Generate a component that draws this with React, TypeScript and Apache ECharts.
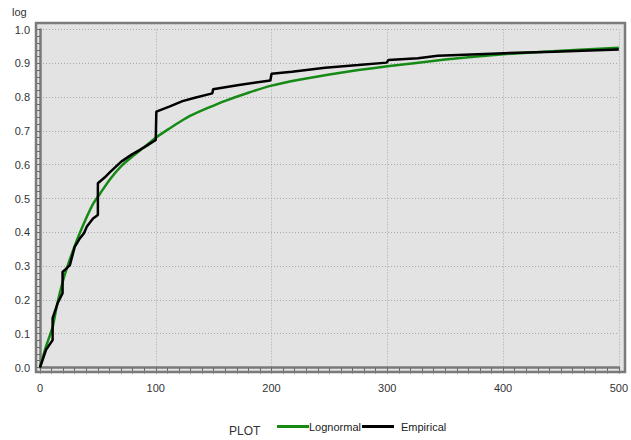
import React, { useEffect, useRef } from "react";
import * as echarts from "echarts";

const xTicks = [0, 100, 200, 300, 400, 500];
const yAxisName = "log";
const legendTitle = "PLOT";
const seriesNames = ["Lognormal", "Empirical"];

// Lognormal fitted curve
const lognormalX = [0, 5, 11, 15, 21, 30, 39, 46, 52, 60, 70, 80, 90, 100, 110, 120, 130, 145, 160, 180, 200, 225, 250, 275, 300, 350, 400, 450, 500];
const lognormalY = [0, 0.06, 0.12, 0.19, 0.27, 0.36, 0.435, 0.485, 0.515, 0.555, 0.595, 0.625, 0.652, 0.68, 0.703, 0.725, 0.745, 0.768, 0.789, 0.813, 0.834, 0.852, 0.867, 0.88, 0.891, 0.911, 0.927, 0.937, 0.946];

// Empirical step curve
const empiricalX = [0, 5.2, 10.9, 10.9, 15.2, 19.5, 19.5, 22.9, 25.8, 30, 34.4, 38, 40.5, 45.8, 50, 50, 55.8, 60.5, 63, 70.2, 78.8, 85.9, 93, 100, 100.5, 111.7, 123.1, 134.6, 148.9, 149.5, 171.8, 199, 200, 217.6, 246.3, 275, 299.5, 301, 326.5, 343.6, 401, 444, 500];
const empiricalY = [0, 0.052, 0.081, 0.146, 0.19, 0.22, 0.283, 0.293, 0.303, 0.357, 0.382, 0.397, 0.417, 0.441, 0.451, 0.545, 0.562, 0.578, 0.586, 0.609, 0.629, 0.643, 0.658, 0.673, 0.757, 0.772, 0.788, 0.799, 0.811, 0.823, 0.836, 0.849, 0.869, 0.875, 0.887, 0.895, 0.902, 0.91, 0.915, 0.922, 0.93, 0.934, 0.941];

const FONT = "'Liberation Sans', Arial, sans-serif";
const FRAME = "#7a7a7a";

export default function App() {
  const ref = useRef<HTMLDivElement>(null);
  useEffect(() => {
    document.body.style.margin = "0";
    const chart = echarts.init(ref.current!, undefined, { renderer: "svg" });
    const lognormalData = lognormalX.map((x, i) => [x, lognormalY[i]]);
    const empiricalData = empiricalX.map((x, i) => [x, empiricalY[i]]);
    chart.setOption({
      animation: false,
      backgroundColor: "#ffffff",
      textStyle: { fontFamily: FONT },
      grid: { left: 40, right: 9, top: 29.5, bottom: 72.5 },
      graphic: [
        {
          type: "rect",
          z: -10,
          silent: true,
          shape: { x: 36, y: 23, width: 589, height: 349 },
          style: { fill: "#e3e3e3", stroke: "none" },
        },
        {
          type: "rect",
          z: 100,
          silent: true,
          shape: { x: 36, y: 23, width: 589, height: 349 },
          style: { fill: "none", stroke: FRAME, lineWidth: 2.5 },
        },
        {
          type: "text",
          x: 12,
          y: 6,
          style: { text: yAxisName, font: `11px ${FONT}`, fill: "#333" },
        },
        {
          type: "text",
          x: 229,
          y: 425,
          style: { text: legendTitle, font: `12px ${FONT}`, fill: "#333" },
        },
      ],
      legend: {
        left: 277,
        top: 421,
        padding: 0,
        itemWidth: 32,
        itemHeight: 3,
        itemGap: 1,
        icon: "rect",
        textStyle: { fontSize: 11, color: "#222", fontFamily: FONT },
        data: [
          { name: seriesNames[0], textStyle: { padding: [0, 0, 2, -5] } },
          { name: seriesNames[1], textStyle: { padding: [0, 0, 0, 2] } },
        ],
      },
      xAxis: {
        type: "value",
        min: xTicks[0],
        max: xTicks[xTicks.length - 1],
        interval: 100,
        offset: 4.5,
        axisLine: { show: true, lineStyle: { color: FRAME, width: 2.5 } },
        axisTick: { show: true, inside: false, length: 6, lineStyle: { color: "#666" } },
        minorTick: { show: true, splitNumber: 10, length: 6, lineStyle: { color: "#666" } },
        axisLabel: { margin: 10, fontSize: 11, color: "#333", fontFamily: FONT },
        splitLine: { show: true, lineStyle: { color: "#a8a8a8", type: [1, 2], width: 1 } },
      },
      yAxis: {
        type: "value",
        min: 0,
        max: 1,
        interval: 0.1,
        offset: 4,
        axisLine: { show: true, lineStyle: { color: FRAME, width: 2.5 } },
        axisTick: { show: true, inside: false, length: 5, lineStyle: { color: "#666" } },
        minorTick: { show: true, splitNumber: 5, length: 3, lineStyle: { color: "#666" } },
        axisLabel: {
          margin: 6,
          fontSize: 11,
          color: "#333",
          fontFamily: FONT,
          formatter: (v: number) => v.toFixed(1),
        },
        splitLine: { show: true, lineStyle: { color: "#a8a8a8", type: [1, 2], width: 1 } },
      },
      series: [
        {
          name: seriesNames[0],
          type: "line",
          data: lognormalData,
          showSymbol: false,
          smooth: 0.15,
          lineStyle: { color: "#158a15", width: 2.5 },
          itemStyle: { color: "#158a15" },
          z: 2,
        },
        {
          name: seriesNames[1],
          type: "line",
          data: empiricalData,
          showSymbol: false,
          lineStyle: { color: "#000000", width: 2.5 },
          itemStyle: { color: "#000000" },
          z: 3,
        },
      ],
    });
    return () => chart.dispose();
  }, []);
  return <div ref={ref} style={{ width: 631, height: 440 }} />;
}
